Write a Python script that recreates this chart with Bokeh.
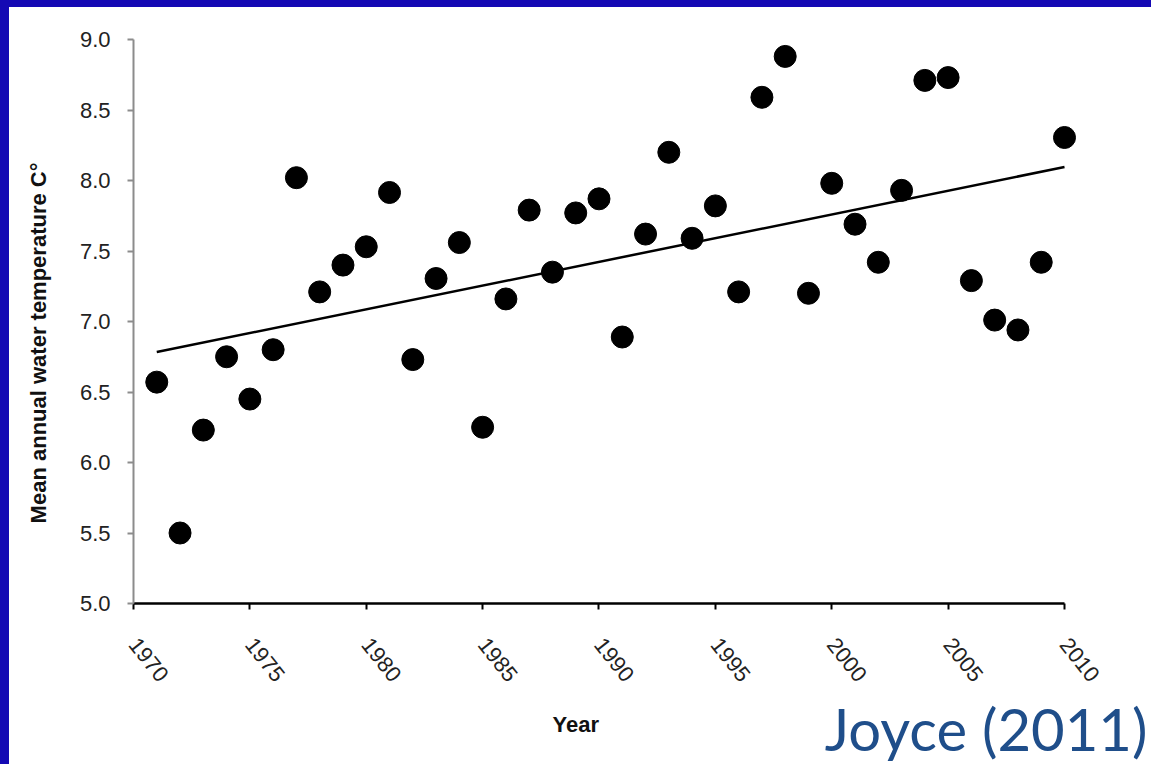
import numpy as np
from bokeh.plotting import figure
from bokeh.models import Range1d, FixedTicker, Label, NumeralTickFormatter, LinearAxis
from bokeh.embed import file_html
from bokeh.resources import INLINE

# ---- data ----
years = list(range(1971, 2011))
temps = [6.57, 5.50, 6.23, 6.75, 6.45, 6.80, 8.02, 7.21, 7.40, 7.53,
         7.915, 6.73, 7.305, 7.56, 6.25, 7.16, 7.79, 7.35, 7.77, 7.87,
         6.89, 7.62, 8.20, 7.59, 7.82, 7.21, 8.59, 8.88, 7.20, 7.98,
         7.69, 7.42, 7.93, 8.71, 8.73, 7.29, 7.01, 6.94, 7.42, 8.305]
x_ticks = [1970, 1975, 1980, 1985, 1990, 1995, 2000, 2005, 2010]
y_ticks = [5.0, 5.5, 6.0, 6.5, 7.0, 7.5, 8.0, 8.5, 9.0]
y_title = "Mean annual water temperature C°"
x_title = "Year"
source_note = "Joyce (2011)"

# linear trend fitted from the data
slope, intercept = np.polyfit(years, temps, 1)
trend_x = [years[0], years[-1]]
trend_y = [slope * xv + intercept for xv in trend_x]

# the frame spans the whole canvas; axes are pinned at x=1970 and y=5
p = figure(width=1151, height=764, output_backend="svg", toolbar_location=None,
           x_range=Range1d(1964.286, 2013.738), y_range=Range1d(3.8582, 9.2766),
           x_axis_location=None, y_axis_location=None,
           min_border_left=0, min_border_right=0, min_border_top=0,
           min_border_bottom=0)
p.styles = {"box-shadow": "inset 9px 7px 0 0 #1409b4"}
p.outline_line_color = None
p.background_fill_color = None
p.border_fill_color = None
p.grid.visible = False

# y axis
ya = LinearAxis(fixed_location=1970, bounds=(5, 9), ticker=FixedTicker(ticks=y_ticks),
                formatter=NumeralTickFormatter(format="0.0"))
ya.axis_line_color = "#8c8c8c"
ya.axis_line_width = 2
ya.major_tick_line_color = "#8c8c8c"
ya.major_tick_line_width = 2
ya.major_tick_out = 6
ya.major_tick_in = 0
ya.minor_tick_line_color = None
ya.major_label_text_font = "Liberation Sans"
ya.major_label_text_font_size = "22px"
ya.major_label_text_color = "#222222"
ya.major_label_standoff = 17
p.add_layout(ya, "left")

# x axis
xa = LinearAxis(fixed_location=5, bounds=(1970, 2010), ticker=FixedTicker(ticks=x_ticks))
xa.axis_line_color = "black"
xa.axis_line_width = 2.5
xa.major_tick_line_color = "black"
xa.major_tick_line_width = 2
xa.major_tick_out = 6
xa.major_tick_in = 0
xa.minor_tick_line_color = None
xa.major_label_text_font = "Liberation Sans"
xa.major_label_text_font_size = "22px"
xa.major_label_text_color = "#222222"
xa.major_label_orientation = -0.9
xa.major_label_standoff = 31
p.add_layout(xa, "below")

# trend line and points
p.line(trend_x, trend_y, line_color="black", line_width=2.5)
p.scatter(years, temps, size=22, fill_color="black", line_color="black")

# axis titles
p.add_layout(Label(x=1965.92, y=6.848, text=y_title,
                   angle=np.pi / 2, text_align="center", text_baseline="alphabetic",
                   text_font="Liberation Sans", text_font_style="bold",
                   text_font_size="22px", text_color="#111111"))
p.add_layout(Label(x=1989.0, y=4.142, text=x_title, text_align="center",
                   text_baseline="alphabetic", text_font="Liberation Sans",
                   text_font_style="bold", text_font_size="22px", text_color="#111111"))
# source note
p.add_layout(Label(x=1999.7, y=4.11, text=source_note, text_align="left",
                   text_baseline="alphabetic", text_font="Lato",
                   text_font_size="58px", text_color="#1f4e8a"))

open("out.html", "w").write(file_html(p, INLINE))
